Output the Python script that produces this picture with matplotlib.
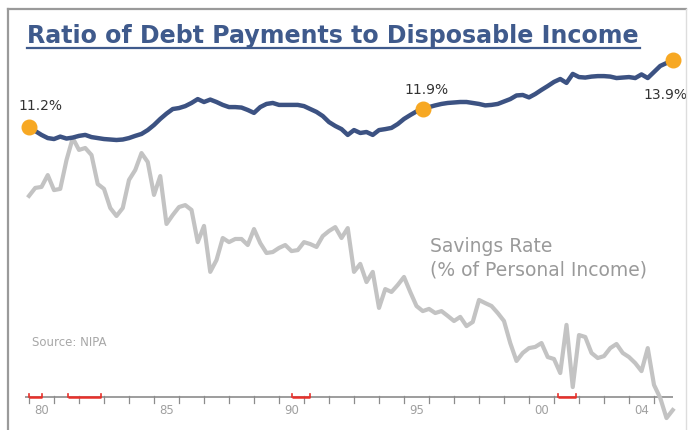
import matplotlib
matplotlib.use("Agg")
import matplotlib.pyplot as plt
import numpy as np
from matplotlib.lines import Line2D

# ---------------- data (quarterly, 1980Q1 - 2005Q4) ----------------
start_year = 1980
debt_ratio = [11.16, 10.99, 10.83, 10.70, 10.66, 10.76, 10.68, 10.72, 10.79, 10.83,
              10.74, 10.70, 10.66, 10.64, 10.62, 10.64, 10.70, 10.79, 10.87, 11.03,
              11.24, 11.49, 11.71, 11.90, 11.94, 12.02, 12.15, 12.31, 12.19, 12.29,
              12.19, 12.07, 11.98, 11.98, 11.96, 11.86, 11.74, 11.98, 12.11, 12.15,
              12.07, 12.07, 12.07, 12.07, 12.02, 11.90, 11.78, 11.61, 11.36, 11.20,
              11.07, 10.83, 11.03, 10.91, 10.95, 10.83, 11.03, 11.07, 11.12, 11.28,
              11.49, 11.65, 11.80, 11.90, 11.98, 12.05, 12.11, 12.15, 12.17, 12.19,
              12.19, 12.15, 12.11, 12.05, 12.07, 12.11, 12.21, 12.31, 12.46, 12.48,
              12.38, 12.52, 12.69, 12.85, 13.02, 13.14, 12.98, 13.35, 13.22, 13.20,
              13.24, 13.26, 13.26, 13.24, 13.18, 13.20, 13.22, 13.18, 13.33, 13.18,
              13.43, 13.68, 13.80, 13.93]
savings_rate = [8.31, 8.64, 8.68, 9.17, 8.55, 8.60, 9.79, 10.70, 10.21, 10.29,
                10.00, 8.80, 8.60, 7.81, 7.48, 7.81, 8.97, 9.38, 10.08, 9.71,
                8.35, 9.13, 7.15, 7.52, 7.85, 7.93, 7.73, 6.40, 7.07, 5.17,
                5.66, 6.57, 6.40, 6.53, 6.53, 6.28, 6.94, 6.36, 5.95, 5.99,
                6.16, 6.28, 6.03, 6.07, 6.40, 6.32, 6.20, 6.65, 6.86, 7.02,
                6.57, 6.98, 5.17, 5.50, 4.75, 5.17, 3.68, 4.46, 4.34, 4.63,
                4.96, 4.34, 3.76, 3.55, 3.64, 3.47, 3.55, 3.35, 3.14, 3.31,
                2.93, 3.10, 4.01, 3.88, 3.76, 3.47, 3.14, 2.23, 1.49, 1.82,
                2.02, 2.07, 2.23, 1.65, 1.57, 0.99, 2.98, 0.41, 2.56, 2.48,
                1.82, 1.61, 1.69, 2.02, 2.19, 1.82, 1.65, 1.40, 1.07, 2.02,
                0.50, -0.04, -0.87, -0.54]
highlight_idx = [0, 63, 103]
highlight_labels = ["11.2%", "11.9%", "13.9%"]
recession_start = [1980.0, 1981.55, 1990.5, 2001.17]
recession_end = [1980.5, 1982.88, 1991.25, 2001.87]
tick_years = list(range(1980, 2006))
label_years = [1980, 1985, 1990, 1995, 2000, 2004]
label_texts = ["80", "85", "90", "95", "00", "04"]

title = "Ratio of Debt Payments to Disposable Income"
series_label = ["Savings Rate", "(% of Personal Income)"]
source = "Source: NIPA"

# ---------------- figure ----------------
W, H = 689, 430
fig = plt.figure(figsize=(W / 100, H / 100), dpi=100)
fig.patch.set_facecolor("white")
ax = fig.add_axes([0, 0, 1, 1])
ax.set_axis_off()

# pixel mapping: year 1980.0 -> x=29, 25 px/year; value 0 -> y=397, 24.2 px/unit
x0, xs = 29, 25.0
y0, ys = 397, 24.2
ax.set_xlim(1980 - x0 / xs, 1980 + (W - x0) / xs)
ax.set_ylim((y0 - H) / ys, y0 / ys)

def fp(px, py):
    return px / W, 1 - py / H

# frame
ft = fig.transFigure
fig.add_artist(Line2D([fp(8, 9)[0], fp(686, 9)[0]], [fp(8, 9)[1]] * 2, transform=ft,
                      color="#9a9a9a", lw=1.6))
fig.add_artist(Line2D([fp(8, 9)[0]] * 2, [fp(8, 9)[1], 0], transform=ft,
                      color="#9a9a9a", lw=1.6))
fig.add_artist(Line2D([fp(686, 9)[0]] * 2, [fp(686, 9)[1], 0], transform=ft,
                      color="#dddddd", lw=1.0))

x = start_year + np.arange(len(debt_ratio)) / 4.0

# baseline axis
ax.plot([1980 - 4 / xs, x[-1] + 0.02], [0, 0], color="#8c8c8c", lw=1.2, zorder=2,
        solid_capstyle="butt")
for yr in tick_years:
    ax.plot([yr, yr], [0.05, -6 / ys], color="#8c8c8c", lw=0.9, zorder=2)
for yr, t in zip(label_years, label_texts):
    ax.text(yr + 0.5, -13 / ys, t, ha="center", va="center", fontsize=8.5,
            color="#a0a0a0", family="DejaVu Sans")

# recession markers
for s, e in zip(recession_start, recession_end):
    ax.plot([s, e], [0.02, 0.02], color="#e8302a", lw=1.8, zorder=3, solid_capstyle="butt")
    for xx in (s, e):
        ax.plot([xx, xx], [0.02, 3.5 / ys], color="#e8302a", lw=1.2, zorder=3)

# series
ax.plot(x, savings_rate, color="#c3c3c3", lw=3.0, zorder=4, solid_joinstyle="round")
ax.plot(x, debt_ratio, color="#3c5282", lw=3.2, zorder=5, solid_joinstyle="round")

offsets = [(8, 15), (3, 14), (-5.5, -25)]
for i, lab, off in zip(highlight_idx, highlight_labels, offsets):
    ax.plot(x[i], debt_ratio[i], "o", ms=10.5, color="#f7a823", mec="#f7a823", zorder=6)
    ax.annotate(lab, (x[i], debt_ratio[i]), xytext=off, textcoords="offset points",
                ha="center", va="center", fontsize=10, color="#333333",
                family="DejaVu Sans")

# series label
lx = 1980 + (430 - x0) / xs
ax.text(lx, (y0 - 247) / ys, series_label[0], ha="left", va="center", fontsize=13.5,
        color="#9a9a9a", family="DejaVu Sans")
ax.text(lx, (y0 - 270) / ys, series_label[1], ha="left", va="center", fontsize=13.5,
        color="#9a9a9a", family="DejaVu Sans")

# source
ax.text(1980 + (32 - x0) / xs, (y0 - 343) / ys, source, ha="left", va="center",
        fontsize=8.5, color="#a8a8a8", family="DejaVu Sans")

# title fitted to width
tcol = "#3f5a8c"
tt = fig.text(fp(27, 0)[0], fp(0, 36)[1], title, ha="left", va="center",
              fontsize=17, fontweight="bold", color=tcol, family="DejaVu Sans")
fig.canvas.draw()
bb = tt.get_window_extent()
target = 640 - 27
tt.set_fontsize(17 * target / bb.width)
fig.add_artist(Line2D([fp(27, 0)[0], fp(640, 0)[0]], [fp(0, 48)[1]] * 2, transform=ft,
                      color=tcol, lw=1.6))

fig.savefig("out.png", dpi=100)
